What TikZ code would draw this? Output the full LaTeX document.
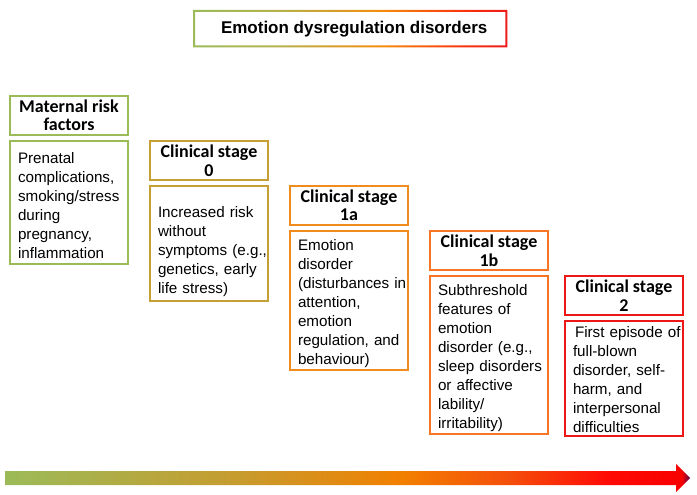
\documentclass[tikz,border=0pt]{standalone}
\usepackage{fontspec}
\setmainfont{Liberation Sans}
\newfontfamily\calfont{Carlito}
\usetikzlibrary{positioning, calc}
\definecolor{riskgreen}{RGB}{155,187,89}
\definecolor{stagegold}{RGB}{197,160,52}
\definecolor{stageorange}{RGB}{240,140,30}
\definecolor{stagedeep}{RGB}{247,118,38}
\definecolor{stagered}{RGB}{236,24,24}
\pgfdeclarehorizontalshading{severity}{100bp}{
  rgb(0bp)=(0.608,0.733,0.349);
  rgb(25bp)=(0.608,0.733,0.349);
  rgb(42bp)=(0.78,0.61,0.18);
  rgb(54bp)=(0.95,0.5,0.0);
  rgb(62bp)=(0.96,0.3,0.04);
  rgb(69bp)=(1,0.04,0.02);
  rgb(74.4bp)=(0.97,0,0);
  rgb(75bp)=(0.35,0,0.3);
  rgb(100bp)=(0.35,0,0.3)}
\pgfdeclarehorizontalshading{titlefade}{100bp}{
  rgb(0bp)=(0.608,0.733,0.349);
  rgb(25bp)=(0.608,0.733,0.349);
  rgb(38bp)=(0.7,0.7,0.3);
  rgb(55bp)=(0.96,0.55,0.05);
  rgb(68bp)=(0.98,0.2,0.05);
  rgb(75bp)=(0.93,0.1,0.1);
  rgb(100bp)=(0.93,0.1,0.1)}
\tikzset{
    hdr/.style={draw=#1, line width=2pt, minimum width=118pt, minimum height=39pt,
      inner sep=0pt, align=center, font=\calfont\bfseries\fontsize{18}{18.5}\selectfont},
    txt/.style={draw=#1, line width=2pt, minimum width=118pt, text width=102pt,
      inner sep=0pt, align=left, font=\fontsize{15.2}{19}\selectfont\hyphenpenalty10000\relax},
    lift/.style={execute at begin node={\rule{0pt}{#1}}},
}
\begin{document}
\begin{tikzpicture}[x=1pt, y=-1pt]
    \useasboundingbox (0,0) rectangle (697,495);

    \node[anchor=north west, minimum width=314pt, minimum height=37pt, inner sep=0pt,
      font=\bfseries\fontsize{17}{20}\selectfont] (title) at (193,10)
      {\hspace*{8pt}Emotion dysregulation disorders};
    \shade[shading=titlefade, even odd rule] (title.north west) rectangle (title.south east)
      ($(title.north west)+(2,2)$) rectangle ($(title.south east)+(-2,-2)$);

    \node[hdr=riskgreen, anchor=north west] (h0) at (9,95) {Maternal risk\\factors};
    \node[txt=riskgreen, lift=17pt, minimum height=123pt, below=4pt of h0] (b0)
      {Prenatal\\complications,\\smoking/stress\\during\\pregnancy,\\inflammation};

    \node[hdr=stagegold, anchor=north west] (h1) at (149,140) {Clinical stage\\0};
    \node[txt=stagegold, lift=28pt, minimum height=115pt, below=4pt of h1] (b1)
      {Increased risk\\without\\symptoms~(e.g.,\\genetics, early\\life stress)};

    \node[hdr=stageorange, anchor=north west] (h2) at (289,185) {Clinical stage\\1a};
    \node[txt=stageorange, lift=18pt, minimum height=139pt, below=4pt of h2] (b2)
      {Emotion\\disorder\\(disturbances~in\\attention,\\emotion\\regulation, and\\behaviour)};

    \node[hdr=stagedeep, anchor=north west] (h3) at (429,230) {Clinical stage\\1b};
    \node[txt=stagedeep, lift=18pt, minimum height=158pt, below=4pt of h3] (b3)
      {Subthreshold\\features of\\emotion\\disorder (e.g.,\\sleep~disorders\\or affective\\lability/\\irritability)};

    \node[hdr=stagered, anchor=north west] (h4) at (564,275) {Clinical stage\\2};
    \node[txt=stagered, lift=13pt, minimum height=115pt, below=4pt of h4] (b4)
      {\hspace*{2pt}First~episode~of\\full-blown\\disorder, self-\\harm, and\\interpersonal\\difficulties};

    \coordinate (a0) at (5,478);
    \coordinate (a1) at (690,478);
    \shade[shading=severity] ($(a0)+(0,-7)$) -- ($(a1)+(-14,-7)$) -- ($(a1)+(-14,-14)$)
      -- (a1) -- ($(a1)+(-14,14)$) -- ($(a1)+(-14,7)$) -- ($(a0)+(0,7)$) -- cycle;
\end{tikzpicture}
\end{document}
